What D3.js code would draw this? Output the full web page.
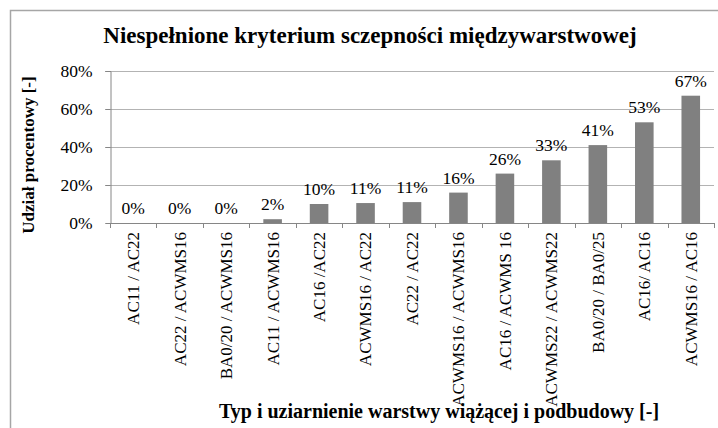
<!DOCTYPE html>
<html>
<head>
<meta charset="utf-8">
<script src="https://cdn.jsdelivr.net/npm/d3@7"></script>
<style>
  body { margin: 0; background: #fff; }
  svg text { font-family: "Liberation Serif", "Times New Roman", serif; fill: #000; }
</style>
</head>
<body>
<div id="chart"></div>
<script>
// categories (x axis) and share of failed samples
var categories = ["AC11 / AC22", "AC22 / ACWMS16", "BA0/20 / ACWMS16", "AC11 / ACWMS16",
  "AC16 /AC22", "ACWMS16 / AC22", "AC22 / AC22", "ACWMS16 / ACWMS16", "AC16 / ACWMS 16",
  "ACWMS22 / ACWMS22", "BA0/20 / BA0/25", "AC16/ AC16", "ACWMS16 / AC16"];
var values = [0, 0, 0, 0.02, 0.10, 0.105, 0.11, 0.16, 0.26, 0.33, 0.41, 0.53, 0.67];
var labels = ["0%", "0%", "0%", "2%", "10%", "11%", "11%", "16%", "26%", "33%", "41%", "53%", "67%"];
var yTicks = [0, 0.2, 0.4, 0.6, 0.8];

var titleText = "Niespełnione kryterium sczepności międzywarstwowej";
var xTitleText = "Typ i uziarnienie warstwy wiążącej i podbudowy [-]";
var yTitleText = "Udział procentowy [-]";

var W = 718, H = 428;
var plotL = 110, plotR = 714, plotT = 71, plotB = 223;
var serif = "'Liberation Serif', 'Times New Roman', serif";

var svg = d3.select("#chart").append("svg")
  .attr("width", W)
  .attr("height", H);

// chart frame (runs off the right and bottom of the picture)
svg.append("rect")
  .attr("x", 10.5).attr("y", 10.5)
  .attr("width", 730).attr("height", 440)
  .attr("fill", "none")
  .attr("stroke", "#a6a6a6")
  .attr("stroke-width", 1.5);

var x = d3.scaleBand()
  .domain(categories)
  .range([plotL, plotR])
  .paddingInner(0.6)
  .paddingOuter(0.3);

var y = d3.scaleLinear()
  .domain([0, 0.8])
  .range([plotB, plotT]);

// gridlines
svg.append("g")
  .selectAll("line")
  .data(yTicks.slice(1))
  .enter()
  .append("line")
  .attr("x1", plotL - 5)
  .attr("x2", plotR)
  .attr("y1", function(d){ return Math.round(y(d)) + 0.5; })
  .attr("y2", function(d){ return Math.round(y(d)) + 0.5; })
  .attr("stroke", "#b3b3b3")
  .attr("stroke-width", 1);

// y axis
var yAxis = svg.append("g")
  .attr("transform", "translate(" + (plotL + 0.5) + ",0)")
  .call(d3.axisLeft(y).tickValues(yTicks).tickFormat(d3.format(".0%")).tickSize(5).tickPadding(13));
yAxis.attr("font-family", serif);
yAxis.select(".domain").attr("stroke", "#868686");
yAxis.selectAll(".tick line").attr("stroke", "#868686");
yAxis.selectAll("text")
  .style("font-size", "17.5px")
  .style("font-family", serif)
  .attr("fill", "#000");

// x axis line + ticks between categories
var step = x.step();
svg.append("line")
  .attr("x1", plotL).attr("x2", plotR)
  .attr("y1", plotB + 0.5).attr("y2", plotB + 0.5)
  .attr("stroke", "#868686");
svg.append("g")
  .selectAll("line")
  .data(d3.range(categories.length + 1))
  .enter()
  .append("line")
  .attr("x1", function(i){ return Math.round(plotL + i * step) + 0.5; })
  .attr("x2", function(i){ return Math.round(plotL + i * step) + 0.5; })
  .attr("y1", plotB)
  .attr("y2", plotB + 5)
  .attr("stroke", "#868686");

// bars
svg.append("g")
  .selectAll("rect")
  .data(values)
  .enter()
  .append("rect")
  .attr("x", function(d, i){ return x(categories[i]); })
  .attr("y", function(d){ return y(d); })
  .attr("width", x.bandwidth())
  .attr("height", function(d){ return plotB - y(d); })
  .attr("fill", "#808080");

// data labels
svg.append("g")
  .selectAll("text")
  .data(values)
  .enter()
  .append("text")
  .attr("x", function(d, i){ return x(categories[i]) + x.bandwidth() / 2; })
  .attr("y", function(d){ return y(d) - 9; })
  .attr("text-anchor", "middle")
  .style("font-family", serif)
  .style("font-size", "17.5px")
  .text(function(d, i){ return labels[i]; });

// category labels, rotated
svg.append("g")
  .selectAll("text")
  .data(categories)
  .enter()
  .append("text")
  .attr("transform", function(d){
    return "translate(" + (x(d) + x.bandwidth() / 2) + "," + (plotB + 9) + ") rotate(-90)";
  })
  .attr("text-anchor", "end")
  .attr("dy", "0.35em")
  .style("font-family", serif)
  .style("font-size", "17px")
  .text(function(d){ return d; });

// titles
svg.append("text")
  .attr("x", 370)
  .attr("y", 43)
  .attr("text-anchor", "middle")
  .style("font-size", "23px")
  .style("font-weight", "bold")
  .text(titleText);

svg.append("text")
  .attr("x", 439)
  .attr("y", 418)
  .attr("text-anchor", "middle")
  .style("font-size", "20px")
  .style("font-weight", "bold")
  .text(xTitleText);

svg.append("text")
  .attr("transform", "translate(28," + 155 + ") rotate(-90)")
  .attr("text-anchor", "middle")
  .attr("dy", "0.35em")
  .style("font-size", "17px")
  .style("font-weight", "bold")
  .text(yTitleText);
</script>
</body>
</html>
